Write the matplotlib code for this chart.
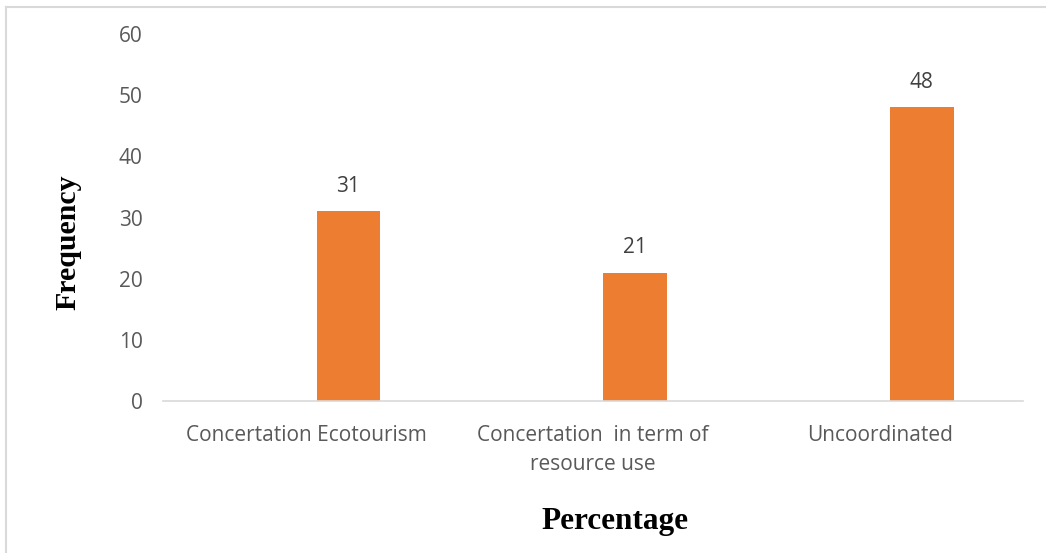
import matplotlib
matplotlib.use("Agg")
import matplotlib.pyplot as plt
from matplotlib.lines import Line2D

categories = ["Concertation Ecotourism", "Concertation  in term of\nresource use", "Uncoordinated"]
values = [31, 21, 48]
y_ticks = [0, 10, 20, 30, 40, 50, 60]

W, H = 1046, 553
fig = plt.figure(figsize=(W / 100, H / 100), dpi=100)
ax = fig.add_axes([163 / W, (H - 401) / H, (1023 - 163) / W, (401 - 34) / H])

x = list(range(len(categories)))
bar_offset = 0.147
bar_width = 0.223
bars = ax.bar([i + bar_offset for i in x], values, width=bar_width, color="#ED7D31", zorder=2)

for rect, v in zip(bars, values):
    ax.annotate(f"{v}", (rect.get_x() + rect.get_width() / 2, v),
                xytext=(0, 25), textcoords="offset pixels", ha="center", va="center",
                fontsize=15, color="#404040", family="Open Sans")

ax.set_xlim(-0.5, len(categories) - 0.5)
ax.set_ylim(0, 60)
ax.set_yticks(y_ticks)
ax.set_xticks(x)
ax.set_xticklabels(categories, fontsize=15, color="#595959", family="Open Sans", linespacing=1.45)
ax.tick_params(axis="y", length=0, pad=14.5, labelsize=15, labelcolor="#595959")
ax.tick_params(axis="x", length=0, pad=17.5)
for lbl in ax.get_yticklabels():
    lbl.set_family("Open Sans")

for side in ["top", "right", "left"]:
    ax.spines[side].set_visible(False)
ax.spines["bottom"].set_color("#D9D9D9")
ax.spines["bottom"].set_linewidth(1.2)

fig.text(68 / W, 1 - 242 / H, "Frequency", rotation=90, ha="center", va="center",
         fontsize=21.5, fontweight="bold", family="Liberation Serif")
fig.text(614.5 / W, 1 - 521 / H, "Percentage", ha="center", va="center",
         fontsize=22.5, fontweight="bold", family="Liberation Serif")

# Chart area frame (top and left edges)
fig.add_artist(Line2D([6 / W, 1045 / W], [1 - 7 / H, 1 - 7 / H], color="#D9D9D9", lw=1.5, transform=fig.transFigure))
fig.add_artist(Line2D([6 / W, 6 / W], [0, 1 - 7 / H], color="#D9D9D9", lw=1.5, transform=fig.transFigure))

fig.savefig("out.png", dpi=100, facecolor="white")
